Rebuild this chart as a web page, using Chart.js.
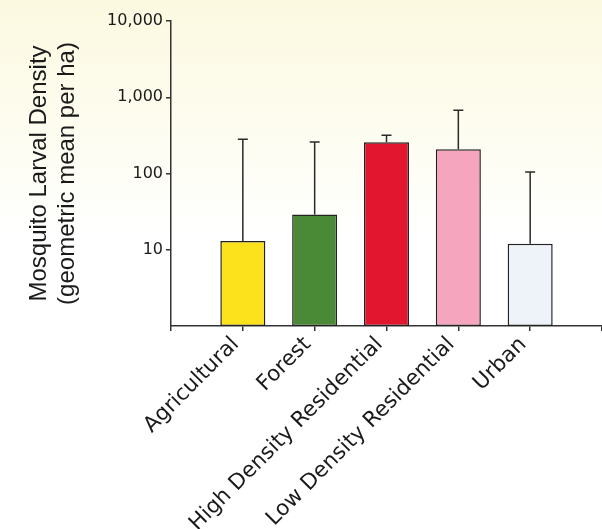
<!DOCTYPE html>
<html>
<head>
<meta charset="utf-8">
<script src="https://cdn.jsdelivr.net/npm/chart.js@4.4.1/dist/chart.umd.min.js"></script>
<style>
  html, body { margin: 0; padding: 0; background: #ffffff; }
  #wrap { width: 602px; height: 529px; }
</style>
</head>
<body>
<div id="wrap"><canvas id="c" width="602" height="529"></canvas></div>
<script>
const categories = ['Agricultural', 'Forest', 'High Density Residential', 'Low Density Residential', 'Urban'];
const means = [13, 29, 256, 208, 12];
const upperErrors = [281, 259, 317, 677, 105];
const yTickValues = [10, 100, 1000, 10000];
const barColors = ['#fbe21c', '#4a8a36', '#e3162f', '#f5a6be', '#eef3f9'];

// pad with empty slots so the axis runs past the bars as in the original
const labels = [''].concat(categories, ['']);
const dataVals = [null].concat(means, [null]);
const errVals = [null].concat(upperErrors, [null]);
const colors = ['rgba(0,0,0,0)'].concat(barColors, ['rgba(0,0,0,0)']);

const bgPlugin = {
  id: 'bg',
  beforeDraw(chart) {
    const ctx = chart.ctx;
    const g = ctx.createLinearGradient(0, 0, 0, chart.height);
    g.addColorStop(0, '#fcf9e1');
    g.addColorStop(0.22, '#fdfcee');
    g.addColorStop(0.45, '#ffffff');
    g.addColorStop(1, '#ffffff');
    ctx.save();
    ctx.fillStyle = g;
    ctx.fillRect(0, 0, chart.width, chart.height);
    ctx.restore();
  }
};

const errPlugin = {
  id: 'errbars',
  afterDatasetsDraw(chart) {
    const ctx = chart.ctx;
    const meta = chart.getDatasetMeta(0);
    const y = chart.scales.y;
    ctx.save();
    ctx.strokeStyle = '#2a2a2a';
    ctx.lineWidth = 1.5;
    meta.data.forEach((bar, i) => {
      const e = errVals[i];
      if (e == null) return;
      const x = bar.x;
      const yTop = y.getPixelForValue(e);
      const yBar = y.getPixelForValue(dataVals[i]);
      ctx.beginPath();
      ctx.moveTo(x, yBar);
      ctx.lineTo(x, yTop);
      ctx.moveTo(x - 5, yTop);
      ctx.lineTo(x + 5, yTop);
      ctx.stroke();
    });
    ctx.restore();
  }
};

new Chart(document.getElementById('c'), {
  type: 'bar',
  data: {
    labels: labels,
    datasets: [{
      data: dataVals,
      backgroundColor: colors,
      borderColor: '#222222',
      borderWidth: 1.5,
      borderSkipped: false,
      categoryPercentage: 0.627,
      barPercentage: 1.0
    }]
  },
  options: {
    responsive: false,
    animation: false,
    devicePixelRatio: 1,
    layout: { padding: { top: 21, left: 0, right: 0, bottom: 0 } },
    plugins: { legend: { display: false }, tooltip: { enabled: false } },
    scales: {
      x: {
        type: 'category',
        offset: false,
        grid: { offset: false, drawOnChartArea: false, drawTicks: true, tickLength: 5, color: '#333333', lineWidth: 1.5 },
        border: { color: '#333333', width: 1.5 },
        ticks: {
          autoSkip: false,
          maxRotation: 45,
          minRotation: 45,
          padding: 1,
          labelOffset: -7,
          color: '#1a1a1a',
          font: { family: 'DejaVu Sans', size: 21.5 }
        },
        afterFit(scale) { scale.height = 203; scale.paddingRight = 0; }
      },
      y: {
        type: 'logarithmic',
        min: 1,
        max: 10000,
        afterBuildTicks(scale) { scale.ticks = yTickValues.map(v => ({ value: v })); },
        grid: { drawOnChartArea: false, drawTicks: true, tickLength: 5, color: '#333333', lineWidth: 1.5 },
        border: { color: '#333333', width: 1.5 },
        ticks: {
          padding: 3,
          color: '#1a1a1a',
          font: { family: 'DejaVu Sans', size: 16 },
          callback: (v) => Number(v).toLocaleString('en-US')
        },
        title: {
          display: true,
          text: ['Mosquito Larval Density', '(geometric mean per ha)'],
          color: '#1a1a1a',
          font: { family: 'Liberation Sans', size: 24, lineHeight: 1.15 },
          padding: { top: 26, bottom: 0 }
        },
        afterFit(scale) { scale.width = 171; }
      }
    }
  },
  plugins: [bgPlugin, errPlugin]
});
</script>
</body>
</html>
